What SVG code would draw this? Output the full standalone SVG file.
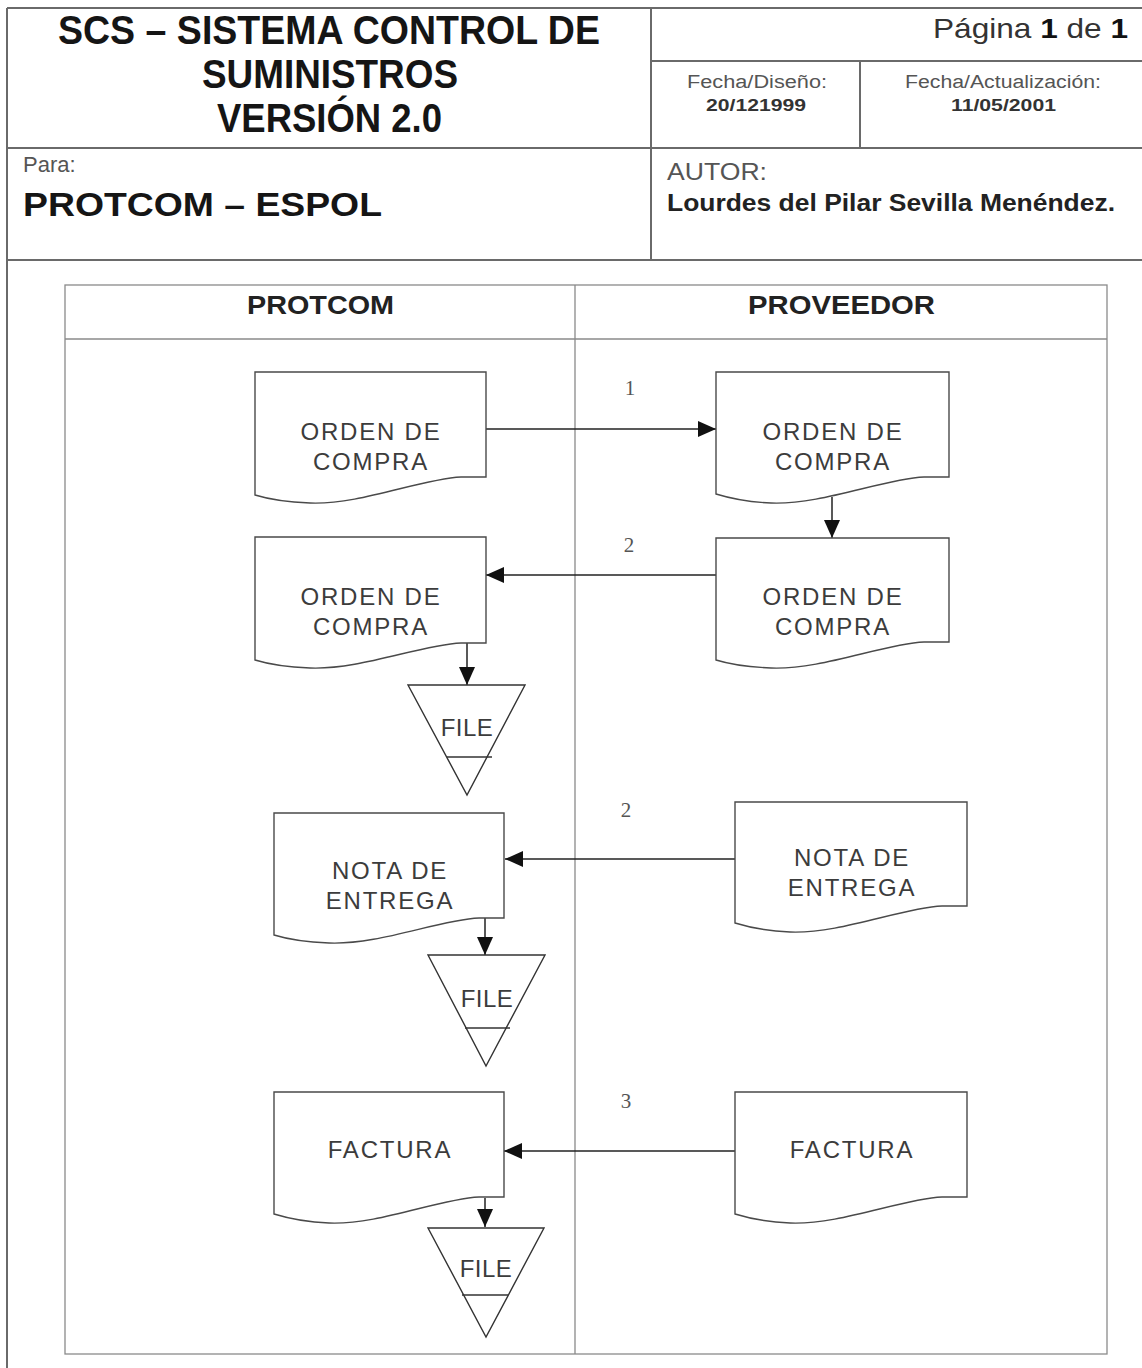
<svg xmlns="http://www.w3.org/2000/svg" width="1142" height="1368" viewBox="0 0 1142 1368">
<style>
.frame{fill:none;stroke:#6a6a6a;stroke-width:2}
.lane{fill:none;stroke:#8a8a8a;stroke-width:1.3}
.doc{fill:#fff;stroke:#4a4a4a;stroke-width:1.4}
.file{fill:#fff;stroke:#333;stroke-width:1.4}
.conn{fill:none;stroke:#222;stroke-width:1.5}
.sans{font-family:"Liberation Sans",Arial,sans-serif}
.title{font-family:"Liberation Sans",Arial,sans-serif;font-weight:bold;font-size:40px;fill:#151515}
.small{font-family:"Liberation Sans",Arial,sans-serif;font-size:18px;fill:#555}
.smallb{font-family:"Liberation Sans",Arial,sans-serif;font-size:17px;font-weight:bold;fill:#333}
.lanehd{font-family:"Liberation Sans",Arial,sans-serif;font-size:26px;font-weight:bold;fill:#222}
.nt{font-family:"Liberation Sans",Arial,sans-serif;font-size:24px;fill:#3c3c3c;letter-spacing:1.8px;text-anchor:middle}
.ft{font-family:"Liberation Sans",Arial,sans-serif;font-size:24px;fill:#3c3c3c;letter-spacing:0.5px;text-anchor:middle}
.num{font-family:"Liberation Serif","Times New Roman",serif;font-size:21px;fill:#555;text-anchor:middle}
</style>
<defs>
<marker id="ah" markerUnits="userSpaceOnUse" markerWidth="19" markerHeight="17" refX="18" refY="8" orient="auto">
<path d="M0,0 L18,8 L0,16 Z" fill="#111"/>
</marker>
</defs>
<rect width="1142" height="1368" fill="#fff"/>

<g id="header">
<path class="frame" d="M7,8 H1142 M7,8 V1368 M7,148 H1142 M7,260 H1142 M651,8 V260 M651,61 H1142 M860,61 V148"/>
<text class="title" x="58" y="44" textLength="542" lengthAdjust="spacingAndGlyphs">SCS – SISTEMA CONTROL DE</text>
<text class="title" x="202" y="88" textLength="256" lengthAdjust="spacingAndGlyphs">SUMINISTROS</text>
<text class="title" x="217" y="132" textLength="225" lengthAdjust="spacingAndGlyphs">VERSIÓN 2.0</text>
<text class="sans" x="933" y="38" font-size="28" fill="#333" textLength="195" lengthAdjust="spacingAndGlyphs">Página <tspan font-weight="bold" fill="#111">1</tspan> de <tspan font-weight="bold" fill="#111">1</tspan></text>
<text class="small" x="687" y="88" textLength="140" lengthAdjust="spacingAndGlyphs">Fecha/Diseño:</text>
<text class="smallb" x="706" y="111" textLength="100" lengthAdjust="spacingAndGlyphs">20/121999</text>
<text class="small" x="905" y="88" textLength="196" lengthAdjust="spacingAndGlyphs">Fecha/Actualización:</text>
<text class="smallb" x="951" y="111" textLength="105" lengthAdjust="spacingAndGlyphs">11/05/2001</text>
<text class="sans" x="23" y="172" font-size="22" fill="#555">Para:</text>
<text class="sans" x="23" y="216" font-size="33" font-weight="bold" fill="#151515" textLength="359" lengthAdjust="spacingAndGlyphs">PROTCOM – ESPOL</text>
<text class="sans" x="667" y="180" font-size="24" fill="#555" textLength="100" lengthAdjust="spacingAndGlyphs">AUTOR:</text>
<text class="sans" x="667" y="211" font-size="23" font-weight="bold" fill="#222" textLength="448" lengthAdjust="spacingAndGlyphs">Lourdes del Pilar Sevilla Menéndez.</text>
</g>

<g id="swimlanes">
<rect class="lane" x="65" y="285" width="1042" height="1069"/>
<path class="lane" d="M65,339 H1107 M575,285 V1354"/>
<text class="lanehd" x="247" y="314" textLength="147" lengthAdjust="spacingAndGlyphs">PROTCOM</text>
<text class="lanehd" x="748" y="314" textLength="187" lengthAdjust="spacingAndGlyphs">PROVEEDOR</text>
</g>

<g id="connectors">
<path class="conn" d="M486,429 H716" marker-end="url(#ah)"/>
<path class="conn" d="M832,497 V538" marker-end="url(#ah)"/>
<path class="conn" d="M716,575 H486" marker-end="url(#ah)"/>
<path class="conn" d="M467,643 V685" marker-end="url(#ah)"/>
<path class="conn" d="M735,859 H505" marker-end="url(#ah)"/>
<path class="conn" d="M485,918 V955" marker-end="url(#ah)"/>
<path class="conn" d="M735,1151 H504" marker-end="url(#ah)"/>
<path class="conn" d="M485,1198 V1227" marker-end="url(#ah)"/>
<text class="num" x="630" y="395">1</text>
<text class="num" x="629" y="552">2</text>
<text class="num" x="626" y="817">2</text>
<text class="num" x="626" y="1108">3</text>
</g>

<g id="orden1_protcom">
<path class="doc" d="M255,372 H486 V477 H461 C420,479 360,505 310,503 C285,502 268,499 255,495 Z"/>
<text class="nt" x="371" y="440">ORDEN DE</text>
<text class="nt" x="371" y="470">COMPRA</text>
</g>
<g id="orden1_proveedor">
<path class="doc" d="M716,372 H949 V477 H924 C883,479 821,505 771,503 C746,502 729,498 716,494 Z"/>
<text class="nt" x="833" y="440">ORDEN DE</text>
<text class="nt" x="833" y="470">COMPRA</text>
</g>
<g id="orden2_proveedor">
<path class="doc" d="M716,538 H949 V642 H924 C883,644 821,670 771,668 C746,667 729,664 716,660 Z"/>
<text class="nt" x="833" y="605">ORDEN DE</text>
<text class="nt" x="833" y="635">COMPRA</text>
</g>
<g id="orden2_protcom">
<path class="doc" d="M255,537 H486 V643 H461 C420,645 360,670 310,668 C285,667 268,664 255,660 Z"/>
<text class="nt" x="371" y="605">ORDEN DE</text>
<text class="nt" x="371" y="635">COMPRA</text>
</g>
<g id="file1">
<polygon class="file" points="408,685 525,685 467,795"/>
<line class="file" x1="447" y1="757" x2="492" y2="757"/>
<text class="ft" x="467" y="736">FILE</text>
</g>

<g id="nota_protcom">
<path class="doc" d="M274,813 H504 V918 H479 C438,920 379,945 329,943 C304,942 287,939 274,935 Z"/>
<text class="nt" x="390" y="879">NOTA DE</text>
<text class="nt" x="390" y="909">ENTREGA</text>
</g>
<g id="nota_proveedor">
<path class="doc" d="M735,802 H967 V906 H942 C901,908 840,934 790,932 C765,931 748,927 735,923 Z"/>
<text class="nt" x="852" y="866">NOTA DE</text>
<text class="nt" x="852" y="896">ENTREGA</text>
</g>
<g id="file2">
<polygon class="file" points="428,955 545,955 486,1066"/>
<line class="file" x1="465" y1="1028" x2="510" y2="1028"/>
<text class="ft" x="487" y="1007">FILE</text>
</g>

<g id="factura_protcom">
<path class="doc" d="M274,1092 H504 V1197 H479 C438,1199 379,1225 329,1223 C304,1222 287,1218 274,1214 Z"/>
<text class="nt" x="390" y="1158">FACTURA</text>
</g>
<g id="factura_proveedor">
<path class="doc" d="M735,1092 H967 V1197 H942 C901,1199 840,1225 790,1223 C765,1222 748,1218 735,1214 Z"/>
<text class="nt" x="852" y="1158">FACTURA</text>
</g>
<g id="file3">
<polygon class="file" points="428,1228 544,1228 486,1337"/>
<line class="file" x1="462" y1="1295" x2="508" y2="1295"/>
<text class="ft" x="486" y="1277">FILE</text>
</g>
</svg>
